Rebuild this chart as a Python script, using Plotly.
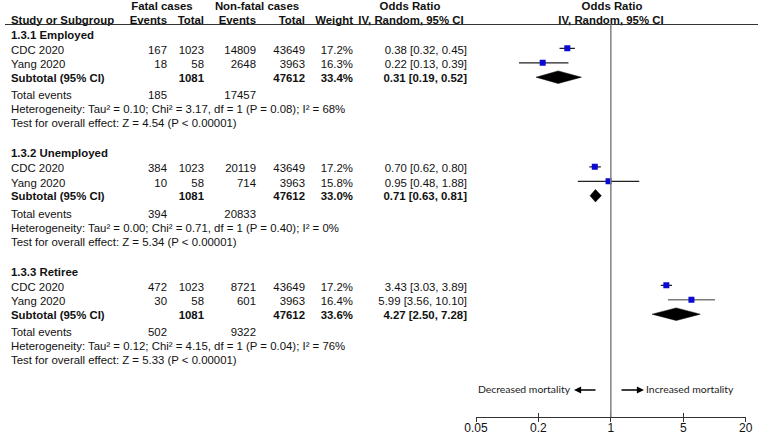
import math
import plotly.graph_objects as go

# ---------------- data ----------------
group_names = ["1.3.1 Employed", "1.3.2 Unemployed", "1.3.3 Retiree"]
study_names = ["CDC 2020", "Yang 2020"]
fatal_events = [[167, 18], [384, 10], [472, 30]]
fatal_total = [[1023, 58], [1023, 58], [1023, 58]]
nonfatal_events = [[14809, 2648], [20119, 714], [8721, 601]]
nonfatal_total = [[43649, 3963], [43649, 3963], [43649, 3963]]
weights = [[17.2, 16.3], [17.2, 15.8], [17.2, 16.4]]
or_est = [[0.38, 0.22], [0.70, 0.95], [3.43, 5.99]]
or_lo = [[0.32, 0.13], [0.62, 0.48], [3.03, 3.56]]
or_hi = [[0.45, 0.39], [0.80, 1.88], [3.89, 10.10]]

sub_fatal_total = [1081, 1081, 1081]
sub_nonfatal_total = [47612, 47612, 47612]
sub_weight = [33.4, 33.0, 33.6]
sub_est = [0.31, 0.71, 4.27]
sub_lo = [0.19, 0.63, 2.50]
sub_hi = [0.52, 0.81, 7.28]
tot_fatal_events = [185, 394, 502]
tot_nonfatal_events = [17457, 20833, 9322]
heterogeneity = [
    "Heterogeneity: Tau² = 0.10; Chi² = 3.17, df = 1 (P = 0.08); I² = 68%",
    "Heterogeneity: Tau² = 0.00; Chi² = 0.71, df = 1 (P = 0.40); I² = 0%",
    "Heterogeneity: Tau² = 0.12; Chi² = 4.15, df = 1 (P = 0.04); I² = 76%",
]
overall_effect = [
    "Test for overall effect: Z = 4.54 (P < 0.00001)",
    "Test for overall effect: Z = 5.34 (P < 0.00001)",
    "Test for overall effect: Z = 5.33 (P < 0.00001)",
]
tick_vals = [0.05, 0.2, 1, 5, 20]
tick_text = ["0.05", "0.2", "1", "5", "20"]
left_label = "Decreased mortality"
right_label = "Increased mortality"

# ---------------- layout constants ----------------
W, H = 758, 434
AXIS_Y = 417
FONT = "Liberation Sans, Arial, sans-serif"
FS = 11.4
TEXT_DY = 1.0
block_start = [35, 153.5, 272]
off = {"head": 0, "s0": 14.8, "s1": 29.3, "sub": 42.7, "tot": 60.5, "het": 74.5, "test": 88.5}
col_fe, col_ft, col_ne, col_nt, col_w, col_or = 167, 204, 256, 305, 353, 467
label_x = 11
plot_l, plot_r = 476, 745.7
dark = "#222222"

texts = {}


def txt(x, y, s, anchor="left", bold=False, size=FS, color="#111111", font=FONT):
    pos = {"left": "middle right", "right": "middle left", "center": "middle center"}[anchor]
    key = (pos, size, color, font)
    d = texts.setdefault(key, {"x": [], "y": [], "t": []})
    d["x"].append(x)
    d["y"].append(y + TEXT_DY)
    d["t"].append(("<b>%s</b>" % s) if bold else s)


def fmt_or(e, l, h):
    return "%.2f [%.2f, %.2f]" % (e, l, h)


# headers
txt(162, 6, "Fatal cases", "center", True)
txt(257, 6, "Non-fatal cases", "center", True)
txt(410, 6, "Odds Ratio", "center", True)
txt(612, 6, "Odds Ratio", "center", True)
txt(label_x, 20, "Study or Subgroup", "left", True)
txt(col_fe, 20, "Events", "right", True)
txt(col_ft, 20, "Total", "right", True)
txt(col_ne, 20, "Events", "right", True)
txt(col_nt, 20, "Total", "right", True)
txt(col_w, 20, "Weight", "right", True)
txt(411, 20, "IV, Random, 95% CI", "center", True)
txt(611, 20, "IV, Random, 95% CI", "center", True)

ci_dark_x, ci_dark_y, ci_gray_x, ci_gray_y = [], [], [], []
sq_x, sq_y = [], []
fig = go.Figure()

for g in range(3):
    b = block_start[g]
    txt(label_x, b + off["head"], group_names[g], "left", True)
    for s in range(2):
        y = b + off["s%d" % s]
        txt(label_x, y, study_names[s])
        txt(col_fe, y, str(fatal_events[g][s]), "right")
        txt(col_ft, y, str(fatal_total[g][s]), "right")
        txt(col_ne, y, str(nonfatal_events[g][s]), "right")
        txt(col_nt, y, str(nonfatal_total[g][s]), "right")
        txt(col_w, y, "%.1f%%" % weights[g][s], "right")
        txt(col_or, y, fmt_or(or_est[g][s], or_lo[g][s], or_hi[g][s]), "right")
        ym = y - 1.5
        if g == 2 and s == 1:
            ci_gray_x += [or_lo[g][s], or_hi[g][s], None]
            ci_gray_y += [ym, ym, None]
        else:
            ci_dark_x += [or_lo[g][s], or_hi[g][s], None]
            ci_dark_y += [ym, ym, None]
        sq_x.append(or_est[g][s])
        sq_y.append(ym)
    ys = b + off["sub"]
    txt(label_x, ys, "Subtotal (95% CI)", "left", True)
    txt(col_ft, ys, str(sub_fatal_total[g]), "right", True)
    txt(col_nt, ys, str(sub_nonfatal_total[g]), "right", True)
    txt(col_w, ys, "%.1f%%" % sub_weight[g], "right", True)
    txt(col_or, ys, fmt_or(sub_est[g], sub_lo[g], sub_hi[g]), "right", True)
    yd = ys - 0.5
    fig.add_trace(go.Scatter(
        x=[sub_lo[g], sub_est[g], sub_hi[g], sub_est[g], sub_lo[g]],
        y=[yd, yd - 6.3, yd, yd + 6.3, yd], xaxis="x2", yaxis="y",
        mode="lines", fill="toself", fillcolor="black",
        line=dict(color="black", width=0.5), hoverinfo="skip", showlegend=False))
    yt = b + off["tot"]
    txt(label_x, yt, "Total events")
    txt(col_fe, yt, str(tot_fatal_events[g]), "right")
    txt(col_ne, yt, str(tot_nonfatal_events[g]), "right")
    txt(label_x, b + off["het"], heterogeneity[g])
    txt(label_x, b + off["test"], overall_effect[g])

fig.add_trace(go.Scatter(x=ci_dark_x, y=ci_dark_y, xaxis="x2", yaxis="y", mode="lines",
                         line=dict(color=dark, width=1.2), showlegend=False, hoverinfo="skip"))
fig.add_trace(go.Scatter(x=ci_gray_x, y=ci_gray_y, xaxis="x2", yaxis="y", mode="lines",
                         line=dict(color="#7a7a7a", width=1.5), showlegend=False, hoverinfo="skip"))
fig.add_trace(go.Scatter(x=sq_x, y=sq_y, xaxis="x2", yaxis="y", mode="markers",
                         marker=dict(symbol="square", size=6, color="#0a0ad2", line=dict(width=0)),
                         showlegend=False, hoverinfo="skip"))

# direction labels
arrow_y = 390
ARROW_FONT = "Lato, Liberation Sans, sans-serif"
txt(570, arrow_y - TEXT_DY, left_label, "right", size=10.4, color="#222222", font=ARROW_FONT)
txt(646, arrow_y - TEXT_DY, right_label, "left", size=10.4, color="#222222", font=ARROW_FONT)

for (pos, size, color, font), d in texts.items():
    fig.add_trace(go.Scatter(
        x=d["x"], y=d["y"], text=d["t"], mode="text", textposition=pos,
        textfont=dict(family=font, size=size, color=color), xaxis="x", yaxis="y",
        cliponaxis=False, showlegend=False, hoverinfo="skip"))

annots = [
    dict(x=574, y=arrow_y, xref="x", yref="y", ax=597, ay=arrow_y, axref="x", ayref="y",
         text="", showarrow=True, arrowhead=2, arrowsize=1.1, arrowwidth=1.3, arrowcolor="black"),
    dict(x=644, y=arrow_y, xref="x", yref="y", ax=620, ay=arrow_y, axref="x", ayref="y",
         text="", showarrow=True, arrowhead=2, arrowsize=1.1, arrowwidth=1.3, arrowcolor="black"),
]

shapes = [
    dict(type="line", xref="x", yref="y", x0=5, x1=W, y0=24.5, y1=24.5,
         line=dict(color="#333333", width=1)),
    dict(type="line", xref="x2", yref="y", x0=1, x1=1, y0=24.5, y1=AXIS_Y,
         line=dict(color="#808080", width=1.5)),
]

lo_log, hi_log = math.log10(tick_vals[0]), math.log10(tick_vals[-1])
dom = [plot_l / W, plot_r / W]
ydom = [(H - AXIS_Y) / H, 1]
fig.update_layout(
    template="none",
    width=W, height=H, margin=dict(l=0, r=0, t=0, b=0, pad=0), autosize=False,
    paper_bgcolor="white", plot_bgcolor="rgba(0,0,0,0)",
    annotations=annots, shapes=shapes, showlegend=False,
    xaxis=dict(domain=[0, 1], range=[0, W], visible=False, showgrid=False,
               zeroline=False, automargin=False, fixedrange=True),
    xaxis2=dict(type="log", domain=dom, range=[lo_log, hi_log], tickvals=tick_vals,
                ticktext=tick_text, ticks="outside", ticklen=4, tickwidth=1, tickcolor="#333",
                showline=True, linecolor="#333", linewidth=1, showgrid=False, zeroline=False,
                anchor="y", automargin=False, ticklabelstandoff=-4,
                tickfont=dict(family=FONT, size=12, color="#111"), fixedrange=True),
    xaxis3=dict(type="log", domain=dom, range=[lo_log, hi_log], tickvals=tick_vals,
                ticks="inside", ticklen=4, tickwidth=1, tickcolor="#333", overlaying="x2",
                anchor="y", side="bottom", showticklabels=False, showline=False,
                showgrid=False, zeroline=False, automargin=False),
    yaxis=dict(range=[AXIS_Y, 0], domain=ydom, visible=False, showgrid=False,
               zeroline=False, automargin=False, fixedrange=True),
)
# invisible trace that activates the overlay tick axis
fig.add_trace(go.Scatter(x=[1], y=[-50], xaxis="x3", yaxis="y", mode="markers",
                         marker=dict(opacity=0), showlegend=False, hoverinfo="skip"))

fig.write_html(
    "out.html",
    config={"displayModeBar": False},
    post_script="document.body.style.margin='0px';document.body.style.padding='0px';"
                "document.body.style.overflow='hidden';",
)
